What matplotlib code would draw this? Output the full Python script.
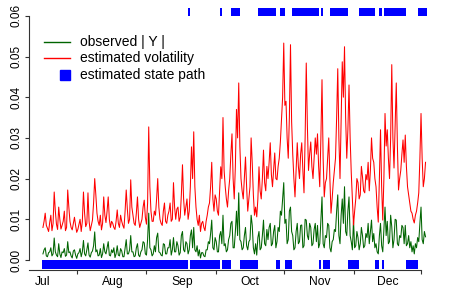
import matplotlib
matplotlib.use('Agg')
import matplotlib.pyplot as plt
import numpy as np

plt.rcParams['font.family'] = ['Liberation Sans', 'DejaVu Sans']

#%% data: two readings per day, Jul 1 -> Dec 18, in units of 1e-4
vol_jul = [80, 95, 115, 85, 78, 70, 92, 110, 72, 90, 167, 120, 88, 75, 130, 100,
           76, 85, 95, 120, 72, 80, 172, 130, 95, 80, 74, 90, 105, 85, 68, 75,
           88, 100, 70, 95, 167, 115, 82, 90, 165, 95, 72, 85, 98, 140, 200, 160,
           115, 95, 85, 110, 74, 90, 155, 110, 92, 120, 155, 100, 80, 95]
vol_aug = [90, 80, 75, 95, 123, 90, 80, 110, 95, 85, 78, 120, 172, 125, 90, 100,
           197, 130, 110, 90, 85, 115, 155, 100, 80, 90, 100, 130, 147, 105, 88, 140,
           327, 180, 120, 95, 95, 120, 110, 150, 200, 130, 100, 90, 85, 120, 140, 95,
           90, 110, 120, 140, 95, 100, 190, 130, 100, 125, 130, 95, 105, 160]
vol_sep = [234, 150, 110, 130, 150, 100, 120, 180, 278, 200, 315, 180, 130, 100, 85, 110,
           70, 90, 95, 80, 72, 95, 110, 130, 140, 180, 240, 150, 120, 160, 150, 120,
           110, 170, 229, 200, 350, 220, 180, 150, 130, 170, 200, 260, 310, 200, 150, 230,
           370, 300, 435, 280, 200, 170, 150, 200, 253, 180, 120, 150]
vol_oct = [180, 300, 238, 160, 110, 130, 106, 150, 229, 170, 150, 200, 270, 190, 170, 230,
           200, 240, 288, 210, 180, 220, 263, 200, 197, 230, 250, 290, 344, 400, 533, 380,
           390, 300, 250, 350, 529, 340, 260, 200, 155, 220, 288, 230, 200, 260, 288, 220,
           165, 300, 484, 330, 220, 260, 290, 230, 200, 250, 300, 260, 310, 230]
vol_nov = [180, 300, 443, 250, 155, 190, 200, 250, 300, 200, 115, 150, 190, 220, 250, 350,
           470, 300, 200, 350, 487, 400, 524, 350, 250, 320, 430, 300, 214, 150, 86, 120,
           150, 200, 190, 150, 160, 230, 204, 170, 165, 210, 197, 240, 170, 220, 300, 250,
           240, 200, 180, 130, 93, 200, 320, 180, 98, 200, 360, 280]
vol_dec = [320, 250, 200, 300, 480, 300, 226, 330, 435, 280, 172, 200, 220, 260, 295, 240,
           307, 230, 180, 160, 140, 120, 115, 100, 91, 110, 120, 140, 165, 250, 360, 250,
           180, 200, 240]

absy_jul = [15, 25, 30, 10, 8, 18, 20, 30, 10, 15, 54, 20, 12, 8, 40, 15,
            6, 20, 18, 28, 9, 12, 45, 18, 20, 10, 5, 22, 25, 12, 4, 15,
            18, 28, 8, 20, 48, 15, 10, 25, 42, 12, 7, 18, 22, 35, 69, 20,
            25, 10, 12, 28, 6, 15, 40, 20, 15, 30, 45, 12, 10, 25]
absy_aug = [18, 30, 6, 15, 35, 12, 10, 28, 22, 8, 8, 30, 50, 15, 15, 25,
            60, 20, 20, 8, 10, 30, 40, 12, 8, 20, 25, 45, 42, 15, 12, 50,
            115, 30, 25, 10, 15, 35, 20, 55, 66, 20, 18, 12, 10, 40, 38, 15,
            15, 30, 30, 50, 12, 25, 55, 20, 20, 45, 35, 12, 18, 60]
absy_sep = [70, 25, 20, 45, 40, 15, 25, 60, 74, 30, 80, 25, 20, 35, 10, 25,
            5, 18, 18, 10, 8, 25, 25, 45, 40, 65, 98, 30, 25, 55, 45, 20,
            20, 60, 70, 40, 110, 35, 40, 20, 25, 50, 60, 90, 95, 30, 30, 70,
            120, 60, 165, 50, 45, 25, 30, 60, 80, 35, 25, 45]
absy_oct = [50, 110, 85, 30, 15, 40, 12, 55, 70, 25, 30, 60, 98, 40, 35, 75,
            50, 80, 90, 35, 40, 70, 85, 30, 45, 80, 70, 120, 110, 150, 190, 90,
            100, 40, 50, 120, 130, 70, 60, 25, 30, 70, 90, 40, 45, 85, 86, 30,
            35, 100, 98, 60, 50, 90, 80, 35, 40, 75, 90, 45, 85, 30]
absy_nov = [40, 100, 155, 40, 30, 60, 55, 90, 85, 30, 20, 45, 50, 75, 70, 120,
            160, 60, 40, 110, 150, 90, 180, 70, 60, 120, 155, 60, 45, 25, 98, 30,
            35, 70, 55, 25, 40, 80, 60, 30, 35, 65, 55, 90, 40, 70, 98, 45,
            65, 30, 40, 20, 15, 60, 90, 35, 20, 75, 130, 60]
absy_dec = [95, 40, 45, 110, 82, 30, 50, 100, 98, 40, 35, 60, 55, 85, 80, 40,
            85, 35, 40, 60, 30, 45, 20, 35, 15, 40, 30, 55, 45, 90, 130, 50,
            40, 70, 57]

# estimated state path as (state, number of days)
state_runs = [(1, 65), (2, 1), (1, 13), (2, 1), (1, 4), (2, 4), (1, 8), (2, 8),
              (1, 2), (2, 2), (1, 3), (2, 12), (1, 1), (2, 1), (1, 3), (2, 8),
              (1, 5), (2, 7), (1, 2), (2, 1), (1, 1), (2, 10), (1, 5), (2, 4)]

months = ['Jul', 'Aug', 'Sep', 'Oct', 'Nov', 'Dec']
month_start = [0, 31, 62, 92, 123, 153]
mid_month = [15, 46, 77, 107, 138, 168]

vol = np.array(vol_jul + vol_aug + vol_sep + vol_oct + vol_nov + vol_dec) / 1e4
absy = np.array(absy_jul + absy_aug + absy_sep + absy_oct + absy_nov + absy_dec) / 1e4
t = np.arange(len(vol)) / 2.0   # two readings per day

#%% figure
fig = plt.figure(figsize=(4.49, 2.99), dpi=100)
ax = fig.add_axes([29 / 449, 29 / 299, 408 / 449, 266 / 299])

ax.plot(t, absy, color='darkgreen', lw=0.75)
ax.plot(t, vol, color='red', lw=0.75)

pos = 0
for state, n in state_runs:
    if state == 1:
        bottom, h = -0.0022, 0.0022
    else:
        bottom, h = 0.0600, 0.0020
    ax.bar(pos - 0.5, h, width=n, bottom=bottom, align='edge',
           color='blue', linewidth=0)
    pos += n

ax.set_xlim(-6.2, 175.1)
ax.set_ylim(-0.00246, 0.0629)

for s in ['top', 'right']:
    ax.spines[s].set_visible(False)
ax.spines['left'].set_bounds(0, 0.06)
ax.spines['bottom'].set_bounds(-6.2, mid_month[-1])
for s in ['left', 'bottom']:
    ax.spines[s].set_linewidth(0.8)
    ax.spines[s].set_color('#333333')

ax.set_yticks([0, 0.01, 0.02, 0.03, 0.04, 0.05, 0.06])
ax.set_yticklabels(['%.2f' % v for v in ax.get_yticks()],
                   rotation=90, va='center')
ax.tick_params(axis='y', length=3, width=0.8, color='#333333', pad=2,
               labelsize=8.5)

ax.set_xticks(month_start)
ax.set_xticklabels(months)
ax.set_xticks(mid_month, minor=True)
ax.tick_params(axis='x', which='major', length=0, pad=4, labelsize=8.7)
ax.tick_params(axis='x', which='minor', length=3, width=0.8, color='#333333')

#%% legend drawn by hand
tr = ax.transAxes
ax.plot([0.037, 0.100], [0.857, 0.857], transform=tr, color='darkgreen', lw=1)
ax.plot([0.037, 0.100], [0.797, 0.797], transform=tr, color='red', lw=1)
ax.plot([0.088], [0.733], transform=tr, marker='s', ms=7, color='blue', lw=0)
ax.text(0.125, 0.857, 'observed | Y |', transform=tr, va='center', fontsize=10)
ax.text(0.125, 0.797, 'estimated volatility', transform=tr, va='center', fontsize=10)
ax.text(0.125, 0.733, 'estimated state path', transform=tr, va='center', fontsize=10)

fig.savefig('out.png', dpi=100)
